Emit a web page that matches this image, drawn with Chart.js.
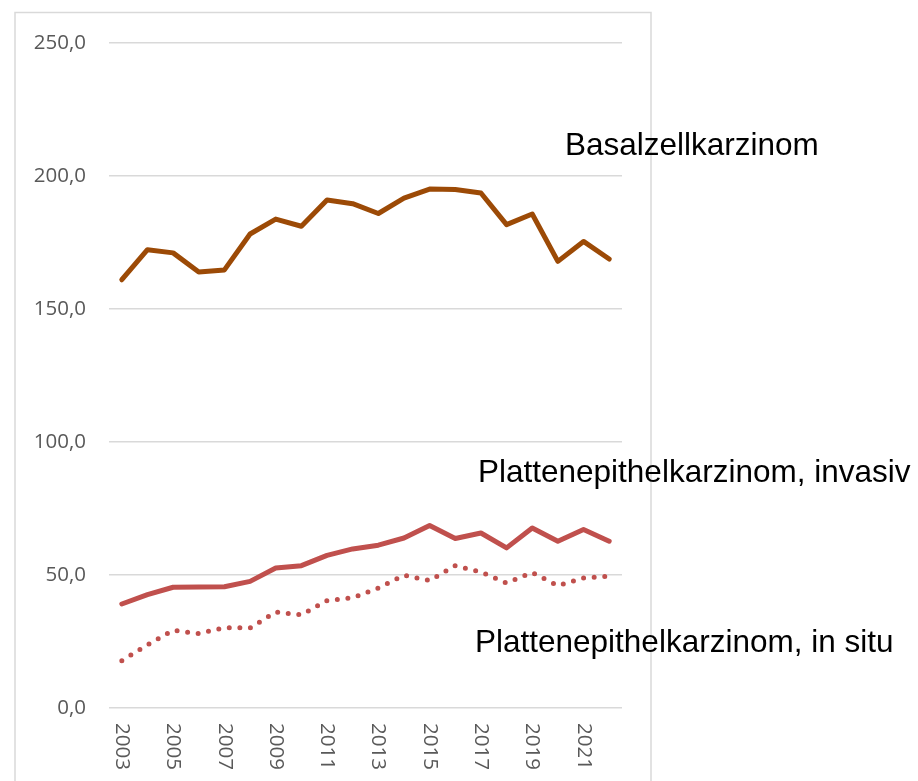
<!DOCTYPE html>
<html>
<head>
<meta charset="utf-8">
<script src="https://cdn.jsdelivr.net/npm/chart.js@4.4.1/dist/chart.umd.min.js"></script>
<style>
    html, body { margin: 0; padding: 0; background: #fff; }
    #wrap { width: 918px; height: 781px; position: relative; }
</style>
</head>
<body>
<div id="wrap"><canvas id="chart"></canvas></div>
<script>
// ========== DATEN ==========
const jahre = ['2003','2004','2005','2006','2007','2008','2009','2010','2011','2012',
               '2013','2014','2015','2016','2017','2018','2019','2020','2021','2022'];
const basalzell = [161.0, 172.3, 171.1, 163.9, 164.7, 178.2, 183.8, 181.1, 191.0, 189.6,
                   185.9, 191.7, 195.1, 194.9, 193.6, 181.7, 185.7, 167.9, 175.4, 168.8];
const platteInvasiv = [39.1, 42.6, 45.4, 45.5, 45.6, 47.6, 52.6, 53.5, 57.4, 59.8,
                       61.2, 63.9, 68.6, 63.7, 65.8, 60.2, 67.7, 62.7, 67.1, 62.7];
const platteInSitu = [17.8, 23.7, 29.2, 28.0, 30.2, 30.1, 36.1, 35.0, 40.4, 41.4,
                      45.1, 49.9, 47.9, 53.5, 51.1, 47.0, 50.9, 46.0, 48.9, 49.5];
const yTicks = [0, 50, 100, 150, 200, 250];

// Beschriftungen der Linien (Text neben dem Diagramm)
const beschriftungen = [
    { text: 'Basalzellkarzinom', x: 565, y: 155 },
    { text: 'Plattenepithelkarzinom, invasiv', x: 478, y: 482 },
    { text: 'Plattenepithelkarzinom, in situ', x: 475, y: 652 }
];

// ========== PLUGINS ==========
const rahmenPlugin = {
    id: 'rahmen',
    beforeDraw(chart) {
        const ctx = chart.ctx;
        ctx.save();
        ctx.strokeStyle = '#d9d9d9';
        ctx.lineWidth = 1.5;
        ctx.beginPath();
        ctx.moveTo(15, 800);
        ctx.lineTo(15, 12.5);
        ctx.lineTo(651, 12.5);
        ctx.lineTo(651, 800);
        ctx.stroke();
        ctx.restore();
    }
};

const textPlugin = {
    id: 'texte',
    afterDraw(chart) {
        const ctx = chart.ctx;
        const xs = chart.scales.x;
        ctx.save();
        // x-Achse: senkrechte Jahreszahlen, jedes zweite Jahr
        ctx.fillStyle = '#595959';
        ctx.font = '20.5px "Open Sans"';
        ctx.textAlign = 'left';
        ctx.textBaseline = 'middle';
        jahre.forEach((j, i) => {
            if (i % 2 !== 0) return;
            const x = xs.getPixelForValue(i);
            ctx.save();
            ctx.translate(x, chart.chartArea.bottom + 15);
            ctx.rotate(Math.PI / 2);
            ctx.fillText(j, 0, 0);
            ctx.restore();
        });
        // Linienbeschriftungen
        ctx.fillStyle = '#000';
        ctx.font = '31.5px "Liberation Sans", Arial, sans-serif';
        ctx.textBaseline = 'alphabetic';
        beschriftungen.forEach(b => ctx.fillText(b.text, b.x, b.y));
        ctx.restore();
    }
};

// ========== DIAGRAMM ==========
const ctx = document.getElementById('chart').getContext('2d');
new Chart(ctx, {
    type: 'line',
    data: {
        labels: jahre,
        datasets: [
            {
                label: 'Basalzellkarzinom', data: basalzell,
                borderColor: '#9c4a06', borderWidth: 5,
                borderCapStyle: 'round', borderJoinStyle: 'round'
            },
            {
                label: 'Plattenepithelkarzinom, invasiv', data: platteInvasiv,
                borderColor: '#c0504d', borderWidth: 5,
                borderCapStyle: 'round', borderJoinStyle: 'round'
            },
            {
                label: 'Plattenepithelkarzinom, in situ', data: platteInSitu,
                borderColor: '#c0504d', borderWidth: 5,
                borderCapStyle: 'round', borderDash: [0, 10.6]
            }
        ]
    },
    options: {
        responsive: true,
        maintainAspectRatio: false,
        animation: false,
        elements: { point: { radius: 0, hoverRadius: 0 }, line: { tension: 0 } },
        layout: { padding: { left: 0, right: 296, top: 43, bottom: 65 } },
        plugins: { legend: { display: false }, tooltip: { enabled: false } },
        scales: {
            x: {
                offset: true,
                grid: { display: false },
                border: { display: false },
                ticks: { display: false }
            },
            y: {
                min: 0, max: 250,
                afterFit(s) { s.width = 109; },
                afterBuildTicks(s) { s.ticks = yTicks.map(v => ({ value: v })); },
                grid: { color: '#d9d9d9', lineWidth: 1.5, drawTicks: false },
                border: { display: false },
                ticks: {
                    padding: 23,
                    color: '#595959',
                    font: { family: 'Open Sans', size: 20.5 },
                    callback: v => v.toFixed(1).replace('.', ',')
                }
            }
        }
    },
    plugins: [rahmenPlugin, textPlugin]
});
</script>
</body>
</html>
